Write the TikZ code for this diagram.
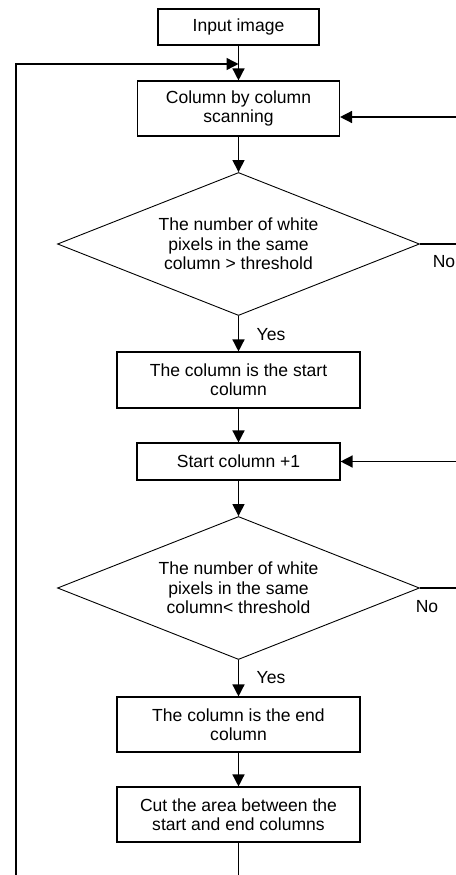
\documentclass[tikz,border=0pt]{standalone}
\usepackage{fontspec}
\setmainfont{Liberation Sans}
\usetikzlibrary{shapes.geometric,arrows.meta}

\begin{document}
\begin{tikzpicture}[x=1bp,y=-1bp,
  box/.style={draw,line width=1.1bp,inner sep=0pt,align=center,font=\fontsize{17.6}{19.5}\selectfont},
  decision/.style={draw,diamond,aspect=2.53,line width=0.9bp,inner sep=0pt,minimum width=362bp,minimum height=143bp,align=center,font=\fontsize{17.6}{19.5}\selectfont},
  arrow/.style={line width=1.4bp,-{Triangle[length=12bp,width=12bp]}},
  link/.style={line width=1.4bp},
  answer/.style={inner sep=0pt,font=\fontsize{17.6}{19.5}\selectfont}]
  \clip (0,0) rectangle (456,875);

  \node[box,minimum width=161bp,minimum height=36bp] (input) at (238.5,27) {Input image};
  \node[box,minimum width=202bp,minimum height=55bp] (scan) at (238.5,108.5) {Column by column\\scanning};
  \node[decision] (more) at (238.5,244) {The number of white\\pixels in the same\\column > threshold};
  \node[box,minimum width=243bp,minimum height=56bp] (start) at (238.5,380) {The column is the start\\column};
  \node[box,minimum width=203bp,minimum height=37bp] (next) at (238.5,461.5) {Start column +1};
  \node[decision] (less) at (238.5,588) {The number of white\\pixels in the same\\column< threshold};
  \node[box,minimum width=243bp,minimum height=55bp] (stop) at (238.5,724.5) {The column is the end\\column};
  \node[box,minimum width=243bp,minimum height=55bp] (cut) at (238.5,814.5) {Cut the area between the\\start and end columns};

  \node[answer] (yes1) at (271,335) {Yes};
  \node[answer] (no1) at (444,262) {No};
  \node[answer] (yes2) at (271,678) {Yes};
  \node[answer] (no2) at (427,607) {No};

  \coordinate (bottom) at (238.5,875);
  \coordinate (corner) at (16,875);
  \coordinate (top) at (16,64);
  \coordinate (join) at (238.5,64);
  \coordinate (back1) at (456,117);
  \coordinate (out1) at (456,244);
  \coordinate (back2) at (456,461.5);
  \coordinate (out2) at (456,588);

  \draw[arrow] (input) -- (scan);
  \draw[arrow] (scan) -- (more);
  \draw[arrow] (more) -- (start);
  \draw[arrow] (start) -- (next);
  \draw[arrow] (next) -- (less);
  \draw[arrow] (less) -- (stop);
  \draw[arrow] (stop) -- (cut);
  \draw[link] (cut) -- (bottom);
  \draw[arrow] (corner) -- (top) -- (join);
  \draw[arrow] (back1) -- (back1 -| scan.east);
  \draw[link] (more) -- (out1);
  \draw[arrow] (back2) -- (next);
  \draw[link] (less) -- (out2);
\end{tikzpicture}
\end{document}
